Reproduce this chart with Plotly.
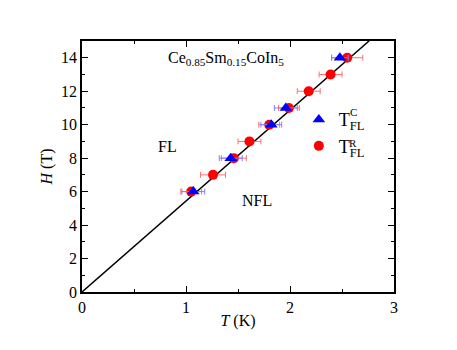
import plotly.graph_objects as go

# red circles: T_FL^R
red_H = [6, 7, 8, 9, 10, 11, 12, 13, 14]
red_T = [1.05, 1.26, 1.46, 1.61, 1.80, 1.99, 2.18, 2.39, 2.55]
red_err = [0.10, 0.12, 0.12, 0.11, 0.10, 0.10, 0.11, 0.11, 0.15]

# blue triangles: T_FL^C
blue_H = [6, 8, 10, 11, 14]
blue_T = [1.07, 1.43, 1.82, 1.96, 2.48]
blue_err = [0.11, 0.11, 0.10, 0.11, 0.08]

# FL / NFL boundary line
line_T = [0, 2.76]
line_H = [0, 15]

serif = "Liberation Serif"

fig = go.Figure()
fig.add_trace(
    go.Scatter(
        x=line_T, y=line_H, mode="lines",
        line=dict(color="black", width=1.5), showlegend=False,
    )
)
fig.add_trace(
    go.Scatter(
        x=red_T, y=red_H, mode="markers", name="T<sub>FL</sub>",
        marker=dict(color="#ff0000", size=10, symbol="circle"),
        error_x=dict(type="data", array=red_err, color="#ff7070", thickness=1, width=3),
    )
)
fig.add_trace(
    go.Scatter(
        x=blue_T, y=blue_H, mode="markers", name="T<sub>FL</sub>",
        marker=dict(color="#0000ff", size=11, symbol="triangle-up"),
        error_x=dict(type="data", array=blue_err, color="#8080ff", thickness=1, width=3),
    )
)

axis_common = dict(
    showline=True, linecolor="black", linewidth=1.5, mirror="ticks",
    ticks="inside", ticklen=6, tickwidth=1, tickcolor="black",
    showgrid=False, zeroline=False,
    tickfont=dict(family=serif, size=16, color="black"),
)
fig.update_xaxes(
    range=[0, 3], dtick=1,
    minor=dict(ticks="inside", ticklen=3, dtick=0.5, tickcolor="black"),
    title=dict(text="<i>T</i> (K)", font=dict(family=serif, size=16, color="black"), standoff=0),
    **axis_common,
)
fig.update_yaxes(
    range=[0, 15], dtick=2,
    minor=dict(ticks="inside", ticklen=3, dtick=1, tickcolor="black"),
    title=dict(text="<i>H</i> (T)", font=dict(family=serif, size=16, color="black"), standoff=4),
    **axis_common,
)

ann_font = dict(family=serif, size=16, color="black")
fig.add_annotation(x=1.38, y=13.95, text="Ce<sub>0.85</sub>Sm<sub>0.15</sub>CoIn<sub>5</sub>",
                   showarrow=False, font=ann_font)
fig.add_annotation(x=0.82, y=8.7, text="FL", showarrow=False, font=ann_font)
fig.add_annotation(x=1.68, y=5.45, text="NFL", showarrow=False, font=ann_font)
# superscripts stacked over the legend subscripts
sup_font = dict(family=serif, size=11, color="black")
fig.add_annotation(x=0.869, y=0.717, xref="paper", yref="paper", text="C",
                   xanchor="center", yanchor="middle", showarrow=False, font=sup_font)
fig.add_annotation(x=0.869, y=0.594, xref="paper", yref="paper", text="R",
                   xanchor="center", yanchor="middle", showarrow=False, font=sup_font)

fig.update_layout(
    width=457, height=350,
    margin=dict(l=74, r=71, t=33, b=66),
    paper_bgcolor="white", plot_bgcolor="white",
    font=dict(family=serif, size=16, color="black"),
    legend=dict(
        x=0.695, y=0.76, xanchor="left", yanchor="top",
        traceorder="reversed", bgcolor="rgba(0,0,0,0)",
        font=dict(family=serif, size=18, color="black"),
        itemwidth=30,
    ),
)

fig.write_html("out.html")
